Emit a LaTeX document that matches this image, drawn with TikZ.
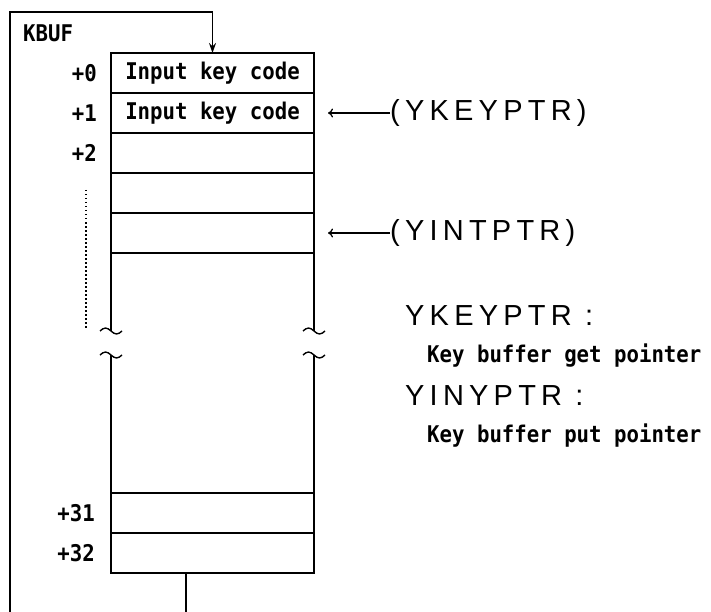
\documentclass[tikz,border=0pt]{standalone}
\usepackage{fontspec}
\setmainfont{Liberation Sans}
\newfontfamily\kbmono{DejaVu Sans Mono}[FakeStretch=0.9]
\newfontfamily\kbwide{Liberation Sans}[LetterSpace=18]
\usepackage{tikz}
\usetikzlibrary{arrows.meta,positioning,calc}
\tikzset{
  % Buffer slot
  cell/.style={rectangle,draw,line width=1.6pt,outer sep=0pt,inner sep=0pt,
    minimum width=203pt,minimum height=40pt,
    font=\kbmono\bfseries\fontsize{23}{23}\selectfont},
  % Offset and caption text
  lbl/.style={inner sep=0pt,font=\kbmono\bfseries\fontsize{23}{23}\selectfont},
  % Pointer names (wide spaced)
  ptr/.style={inner sep=0pt,font=\kbwide\fontsize{29}{29}\selectfont},
  % Buffer side line
  side/.style={line width=1.6pt},
  % Wrap-around line
  wire/.style={line width=1.3pt},
  % Break mark
  brk/.style={line width=1.4pt},
  % Arrows
  arr/.style={wire,-{Stealth[length=10pt,width=7pt]}},
  parr/.style={line width=1.3pt,-{To[length=5pt,width=9pt]}},
}
\begin{document}
\begin{tikzpicture}[x=1pt,y=-1pt]
  \useasboundingbox (0,0) rectangle (711,612);

  %% --- KEY BUFFER ---
  \node[cell] (r0) at (212.5,73) {Input key code};
  \node[cell,below=0pt of r0] (r1) {Input key code};
  \node[cell,below=0pt of r1] (r2) {};
  \node[cell,below=0pt of r2] (r3) {};
  \node[cell,below=0pt of r3] (r4) {};
  \node[cell] (r31) at (212.5,513) {};
  \node[cell,below=0pt of r31] (r32) {};

  \node[lbl,anchor=west] (kbuf) at (23,33) {KBUF};
  \node[lbl,left=14pt of r0] (off0) {+0};
  \node[lbl,left=14pt of r1] (off1) {+1};
  \node[lbl,left=14pt of r2] (off2) {+2};
  \node[lbl,left=16pt of r31] (off31) {+31};
  \node[lbl,left=16pt of r32] (off32) {+32};

  % Gap in the buffer
  \coordinate (cut1) at (0,331);
  \coordinate (cut2) at (0,355);
  \foreach \s in {west,east} {
    \draw[side] (r4.south \s) -- (r4.south \s |- cut1);
    \draw[side] (r4.south \s |- cut2) -- (r31.north \s);
    \draw[brk] (r4.south \s |- cut1) ++(-11,0) sin ++(5.5,-3) cos ++(5.5,3)
      sin ++(5.5,3) cos ++(5.5,-3);
    \draw[brk] (r4.south \s |- cut2) ++(-11,0) sin ++(5.5,-3) cos ++(5.5,3)
      sin ++(5.5,3) cos ++(5.5,-3);
  }
  \coordinate (dtop) at (86,190);
  \coordinate (dbot) at (86,330);
  \draw[line width=1.5pt,dash pattern=on 1.5pt off 2.5pt] (dtop) -- (dbot);

  %% --- POINTERS ---
  \node[ptr,right=76pt of r1] (ykey) {(YKEYPTR)};
  \node[ptr,right=76pt of r4] (yint) {(YINTPTR)};
  \draw[parr,shorten >=14pt] (ykey.west) -- (r1.east);
  \draw[parr,shorten >=14pt] (yint.west) -- (r4.east);

  \node[ptr,anchor=west] (kname) at (405,316) {YKEYPTR :};
  \node[lbl,anchor=west] (kdesc) at (427,356) {Key buffer get pointer};
  \node[ptr,anchor=west] (iname) at (405,396) {YINYPTR :};
  \node[lbl,anchor=west] (idesc) at (427,436) {Key buffer put pointer};

  %% --- WRAP-AROUND ---
  \coordinate (wrapin) at (10,612);
  \coordinate (wraptop) at (10,12);
  \coordinate (wrapout) at (186,612);
  \draw[arr] (wrapin) -- (wraptop) -| (r0.north);
  \draw[wire] (r32.south -| wrapout) -- (wrapout);
\end{tikzpicture}
\end{document}
